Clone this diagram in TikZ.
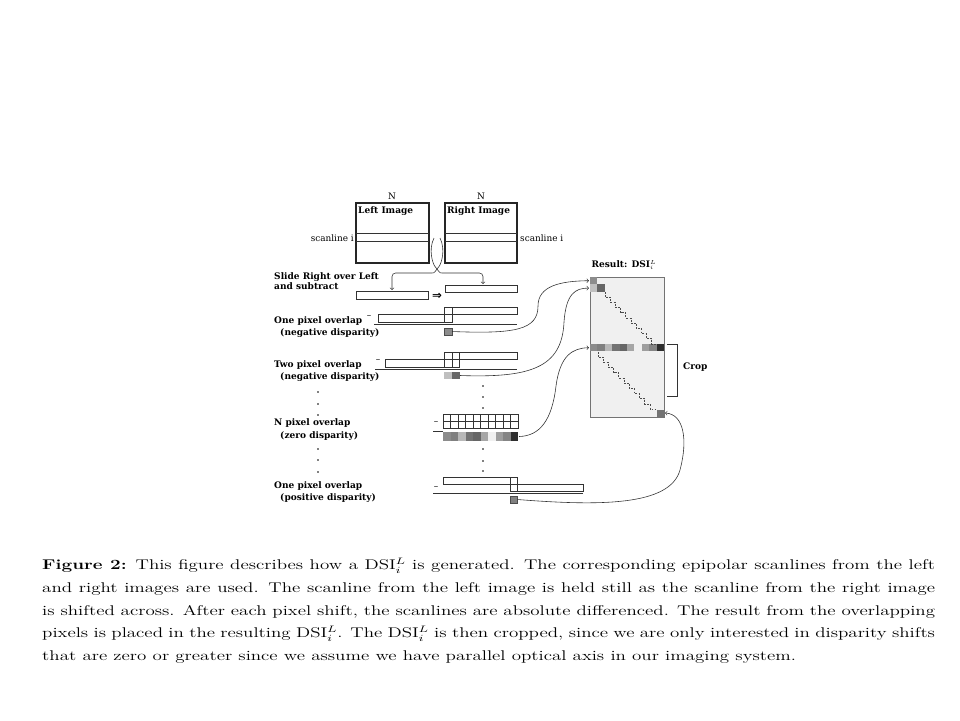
\documentclass[tikz,border=0pt]{standalone}
\usepackage{fontspec}
\usepackage{graphicx}
\newfontfamily\diagfont{DejaVu Serif}
\newfontfamily\symfont{DejaVu Sans}
\usetikzlibrary{positioning}

\tikzset{
  imgbox/.style={draw=black!85, line width=0.9pt},
  bar/.style={draw=black!80, line width=0.6pt},
  lbl/.style={font=\diagfont\bfseries\fontsize{7.7}{9}\selectfont, align=left, anchor=west, inner sep=0pt},
  thin/.style={font=\diagfont\fontsize{7.6}{9}\selectfont, inner sep=0pt},
  conn/.style={->, draw=black!80, line width=0.5pt},
  stair/.style={dash pattern=on 1.6pt off 1.1pt, draw=black!70, line width=0.6pt},
  pixbox/.style={draw=black!70, line width=0.4pt},
}

\begin{document}
\begin{tikzpicture}[x=0.03cm, y=-0.03cm]
\useasboundingbox (0,0) rectangle (960,720);
\newcommand{\cw}{7.4}
% left and right images
\draw[imgbox] (356,203) rectangle (429,263);
\draw[imgbox] (445,203) rectangle (517,263);
\draw[bar] (356,233) -- (429,233) (356,241) -- (429,241);
\draw[bar] (445,233) -- (517,233) (445,241) -- (517,241);
\node[thin] (nl) at (392,196) {N};
\node[thin] (nr) at (481,196) {N};
\node[lbl] (limg) at (358,211) {Left Image};
\node[lbl] (rimg) at (447,211) {Right Image};
\node[thin, anchor=east] (scl) at (354,238) {scanline i};
\node[thin, anchor=west] (scr) at (520,238) {scanline i};
\coordinate (sl) at (434,238);
\coordinate (sr) at (440,238);
\coordinate (tl) at (392,290);
\coordinate (tr) at (483,284);
\draw[conn, rounded corners=3pt] (sl) .. controls (428,250) and (433,264) .. (437,269) .. controls (440,273) .. (448,273) -- (483,273) -- (tr);
\draw[conn, rounded corners=3pt] (sr) .. controls (446,250) and (441,264) .. (437,269) .. controls (434,273) .. (426,273) -- (392,273) -- (tl);
%%%%%%%%%%%%%%%
\node[lbl] (slide) at (274,281) {Slide Right over Left\\and subtract};
\draw[bar] (356,291) rectangle (428,299);
\draw[bar] (445,285) rectangle (517,292);
\node[inner sep=0pt, font=\symfont\bfseries\fontsize{10}{10}\selectfont] (dbl) at (437,296) {⇒};
%%%%%%%%%%%%%%% one pixel, negative
\node[lbl] (one) at (274,321) {One pixel overlap};
\node[lbl] (oned) at (280,333) {(negative disparity)};
\draw[bar] (444,307) rectangle (517,314);
\draw[bar] (378,314) rectangle (452,322);
\draw[bar] (444,307) rectangle (452,322);
\draw[bar] (374,324) -- (517,324);
\node[thin] (m1) at (369,317) {–};
\draw[pixbox, fill=black!45] (444,328) rectangle (452,335);
\coordinate (res1) at (452,331.5);
%%%%%%%%%%%%%%% two pixel, negative
\node[lbl] (two) at (274,365) {Two pixel overlap};
\node[lbl] (twod) at (280,377) {(negative disparity)};
\draw[bar] (444,352) rectangle (517,359);
\draw[bar] (385,359) rectangle (459,367);
\draw[bar] (444,352) rectangle (452,367) (452,352) rectangle (459,367);
\draw[bar] (375,369) -- (517,369);
\node[thin] (m2) at (378,361) {–};
\fill[black!25] (444,372) rectangle (452,379);
\fill[black!60] (452,372) rectangle (459.5,379);
\coordinate (res2) at (460,375.5);
%%%%%%%%%%%%%%% dots
\foreach \y in {392,404,415,449,460,472} \fill (318,\y) circle (0.8);
\foreach \y in {386,397,408,449,461,471} \fill (483,\y) circle (0.8);
%%%%%%%%%%%%%%% N pixel, zero
\node[lbl] (npix) at (274,423) {N pixel overlap};
\node[lbl] (npixd) at (280,436) {(zero disparity)};
\foreach \i in {0,...,9} \draw[bar] (443+7.5*\i,414) rectangle ++(7.5,7) (443+7.5*\i,421) rectangle ++(7.5,7);
\draw[bar] (433,431) -- (443,431);
\node[thin] (m3) at (436,423) {–};
\foreach \s [count=\i from 0] in {45,50,28,55,60,35,6,38,48,82}
  \fill[black!\s] (443+7.5*\i,432) rectangle ++(7.5,9);
\coordinate (res3) at (519,436.5);
%%%%%%%%%%%%%%% one pixel, positive
\node[lbl] (pos) at (274,486) {One pixel overlap};
\node[lbl] (posd) at (280,498) {(positive disparity)};
\draw[bar] (443,477) rectangle (517,484);
\draw[bar] (510,484) rectangle (583,491);
\draw[bar] (510,477) rectangle (517,491);
\draw[bar] (433,493.5) -- (583,493.5);
\node[thin] (m4) at (436,488) {–};
\draw[pixbox, fill=black!50] (510,496) rectangle (517,503);
\coordinate (res4) at (517.5,499.5);
%%%%%%%%%%%%%%% result DSI
\node[lbl, anchor=center] (dsi) at (624,265) {Result: DSI$_i^L$};
\draw[draw=black!55, fill=black!6, line width=0.7pt] (590,277) rectangle (664,417);
\fill[black!45] (590,277) rectangle ++(\cw,\cw);
\fill[black!25] (590,277+\cw) rectangle ++(\cw,\cw);
\fill[black!60] (590+\cw,277+\cw) rectangle ++(\cw,\cw);
\foreach \s [count=\i from 0] in {45,50,28,55,60,35,6,38,48,82}
  \fill[black!\s] (590+\cw*\i,344) rectangle ++(\cw,\cw);
\fill[black!55] (590+9*\cw,277+18*\cw) rectangle ++(\cw,\cw);
\draw[stair] (605,292) \foreach \k in {1,...,10} { -- ++(0,5.2) -- ++(5.2,0) };
\draw[stair] (598,352) \foreach \k in {1,...,11} { -- ++(0,5.2) -- ++(5.2,0) };
\coordinate (d0) at (589,280.7);
\coordinate (d1) at (589,288.1);
\coordinate (d9) at (589,347.7);
\coordinate (d18) at (665,413);
% crop bracket
\draw[line width=0.7pt, draw=black!80] (667,344) -- (677,344) -- (677,396) -- (667,396);
\node[lbl] (crop) at (683,367) {Crop};
% connectors
\draw[conn] (res1) .. controls (515,334) and (538,330) .. (538,306) .. controls (538,286) and (560,281) .. (d0);
\draw[conn] (res2) .. controls (530,378) and (562,368) .. (564,322) .. controls (566,294) and (575,288) .. (d1);
\draw[conn] (res3) .. controls (540,436) and (552,420) .. (556,386) .. controls (560,356) and (572,348) .. (d9);
\draw[conn] (res4) .. controls (600,506) and (670,506) .. (680,470) .. controls (688,440) and (684,414) .. (d18);
%%%%%%%%%%%%%%% caption
\node[anchor=north west, inner sep=0pt] (cap) at (42,558) {\scalebox{1.35}[1]{\parbox{19.84cm}{%
\fontsize{12}{19.4}\selectfont
\textbf{Figure 2:} This figure describes how a DSI$_i^L$ is generated.  The corresponding epipolar scanlines from the left\linebreak
and right images are used.  The scanline from the left image is held still as the scanline from the right image\linebreak
is shifted across.  After each pixel shift, the scanlines are absolute differenced.  The result from the overlapping\linebreak
pixels is placed in the resulting DSI$_i^L$.  The DSI$_i^L$ is then cropped, since we are only interested in disparity shifts\linebreak
that are zero or greater since we assume we have parallel optical axis in our imaging system.}}};
\end{tikzpicture}
\end{document}
